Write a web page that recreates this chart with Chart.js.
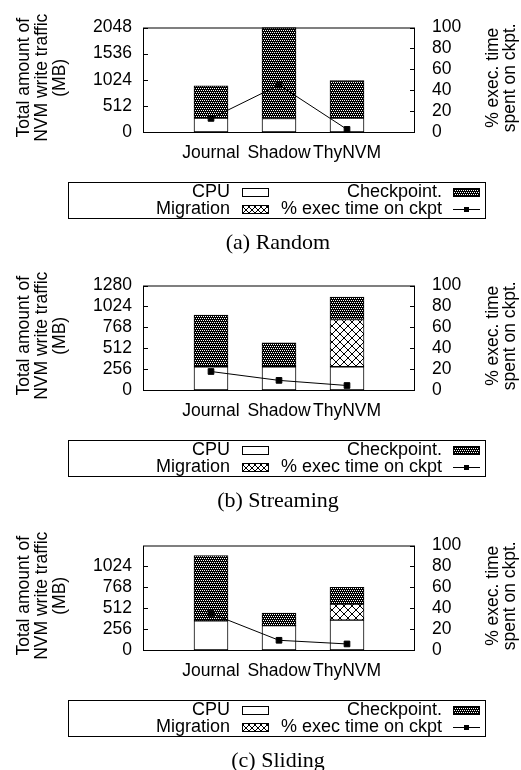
<!DOCTYPE html>
<html>
<head>
<meta charset="utf-8">
<script src="https://cdn.jsdelivr.net/npm/chart.js@4.4.1/dist/chart.umd.min.js"></script>
<style>
  body { margin: 0; background: #fff; }
  .panel { position: absolute; left: 0; width: 521px; height: 259px; }
  .panel canvas { position: absolute; left: 0; top: 0; }
  .caption { position: absolute; left: 0; width: 556px; top: 229px; text-align: center;
    font: 22px "Liberation Serif", "Times New Roman", serif; line-height: 26px; color: #000; }
</style>
</head>
<body>
<div class="panel" style="top:0px"><canvas id="c0" width="521" height="240"></canvas><div class="caption">(a) Random</div></div>
<div class="panel" style="top:258px"><canvas id="c1" width="521" height="240"></canvas><div class="caption">(b) Streaming</div></div>
<div class="panel" style="top:518px"><canvas id="c2" width="521" height="240"></canvas><div class="caption">(c) Sliding</div></div>
<script>
// categories (empty slots at both ends, like the gnuplot x range)
const categories = ["", "Journal", "Shadow", "ThyNVM", ""];

// (a) Random
const randomCpu = [275, 264, 275];
const randomMigration = [0, 0, 0];
const randomCkpt = [628, 1784, 734];
const randomPct = [13, 45, 2.5];
const randomTicks = [0, 512, 1024, 1536, 2048];

// (b) Streaming
const streamingCpu = [285, 285, 285];
const streamingMigration = [0, 0, 578];
const streamingCkpt = [633, 293, 275];
const streamingPct = [17.7, 9.2, 4.3];
const streamingTicks = [0, 256, 512, 768, 1024, 1280];

// (c) Sliding
const slidingCpu = [357, 298, 365];
const slidingMigration = [0, 0, 197];
const slidingCkpt = [800, 153, 205];
const slidingPct = [35, 9.3, 5.8];
const slidingTicks = [0, 256, 512, 768, 1024];

const pctTicks = [0, 20, 40, 60, 80, 100];

const FAMILY = '"Liberation Sans", Arial, Helvetica, sans-serif';
const FONT = "17.5px " + FAMILY;
const LEGEND_FONT = "18px " + FAMILY;
Chart.defaults.font.family = FAMILY;
Chart.defaults.font.size = 17.5;
Chart.defaults.color = "#000";

function makeCheckPattern() {
	const c = document.createElement("canvas");
	c.width = 4; c.height = 4;
	const g = c.getContext("2d");
	g.fillStyle = "#000";
	g.fillRect(0, 0, 4, 4);
	g.fillStyle = "#fff";
	[[0, 0], [2, 0], [1, 2], [3, 2]].forEach(p => g.fillRect(p[0], p[1], 1, 1));
	return g.createPattern(c, "repeat");
}

function makeCrossPattern(size) {
	const c = document.createElement("canvas");
	c.width = size; c.height = size;
	const g = c.getContext("2d");
	g.fillStyle = "#fff";
	g.fillRect(0, 0, size, size);
	g.strokeStyle = "#000";
	g.lineWidth = 1;
	g.beginPath();
	g.moveTo(0, 0); g.lineTo(size, size);
	g.moveTo(0, size); g.lineTo(size, 0);
	g.stroke();
	return g.createPattern(c, "repeat");
}

const checkFill = makeCheckPattern();
const crossFill = makeCrossPattern(8);
const crossFillSmall = makeCrossPattern(6);

// pad values with the empty end slots, 0 means no segment
const pad = arr => [null, ...arr.map(v => (v ? v : null)), null];

function drawLegend(ctx) {
	ctx.save();
	ctx.strokeStyle = "#000";
	ctx.lineWidth = 1;
	ctx.strokeRect(68.5, 182.5, 417, 36);
	ctx.font = LEGEND_FONT;
	ctx.fillStyle = "#000";
	ctx.textAlign = "right";
	ctx.textBaseline = "middle";
	const r1 = 192, r2 = 209;
	ctx.fillText("CPU", 230, r1);
	ctx.fillText("Checkpoint.", 442, r1);
	ctx.fillText("Migration", 230, r2);
	ctx.fillText("% exec time on ckpt", 442, r2);

	function swatch(x, y, fill) {
		ctx.fillStyle = fill;
		ctx.fillRect(x, y - 4, 26, 8);
		ctx.strokeRect(x + 0.5, y - 3.5, 26, 8);
	}
	swatch(242, r1, "#fff");
	swatch(453, r1, checkFill);
	swatch(242, r2, crossFillSmall);

	ctx.beginPath();
	ctx.moveTo(453, r2 + 0.5);
	ctx.lineTo(480, r2 + 0.5);
	ctx.stroke();
	ctx.fillStyle = "#000";
	ctx.fillRect(464, r2 - 2, 5, 5);
	ctx.restore();
}

function drawTitle(ctx, lines, xs, y) {
	ctx.save();
	ctx.font = FONT;
	ctx.fillStyle = "#000";
	ctx.textAlign = "center";
	ctx.textBaseline = "middle";
	lines.forEach((t, i) => {
		ctx.save();
		ctx.translate(xs[i], y);
		ctx.rotate(-Math.PI / 2);
		ctx.fillText(t, 0, 0);
		ctx.restore();
	});
	ctx.restore();
}

const framePlugin = {
	id: "frame",
	afterDatasetsDraw(chart) {
		const { ctx, chartArea: a, scales } = chart;
		ctx.save();
		ctx.strokeStyle = "#000";
		ctx.lineWidth = 1;
		ctx.strokeRect(a.left + 0.5, a.top + 0.5, a.right - a.left - 1, a.bottom - a.top);
		ctx.beginPath();
		scales.y.ticks.forEach(t => {
			const y = Math.round(scales.y.getPixelForValue(t.value)) + 0.5;
			ctx.moveTo(a.left, y);
			ctx.lineTo(a.left + 5, y);
		});
		scales.y2.ticks.forEach(t => {
			const y = Math.round(scales.y2.getPixelForValue(t.value)) + 0.5;
			ctx.moveTo(a.right, y);
			ctx.lineTo(a.right - 5, y);
		});
		ctx.stroke();
		ctx.restore();
	},
	afterDraw(chart) {
		const { ctx, chartArea: a } = chart;
		const mid = (a.top + a.bottom) / 2 - 2;
		drawTitle(ctx, ["Total amount of", "NVM write traffic", "(MB)"], [24, 42, 60], mid);
		drawTitle(ctx, ["% exec. time", "spent on ckpt."], [493, 510], mid);
		drawLegend(ctx);
	},
};

function makeChart(id, cpu, migration, ckpt, pct, yMax, yTicks) {
	const ctx = document.getElementById(id).getContext("2d");
	return new Chart(ctx, {
		type: "bar",
		data: {
			labels: categories,
			datasets: [
				{
					label: "% exec time on ckpt",
					type: "line",
					data: pad(pct),
					yAxisID: "y2",
					borderColor: "#000",
					borderWidth: 1,
					pointStyle: "rect",
					pointRadius: 4,
					pointBackgroundColor: "#000",
					pointBorderColor: "#000",
					order: 0,
					clip: false,
				},
				{
					label: "CPU",
					data: pad(cpu),
					backgroundColor: "#fff",
					order: 1,
				},
				{
					label: "Migration",
					data: pad(migration),
					backgroundColor: crossFill,
					order: 1,
				},
				{
					label: "Checkpoint.",
					data: pad(ckpt),
					backgroundColor: checkFill,
					order: 1,
				},
			],
		},
		options: {
			responsive: false,
			animation: false,
			events: [],
			layout: { padding: { top: 16, bottom: 68, left: 0, right: 0 } },
			datasets: {
				bar: {
					barThickness: 34,
					borderColor: "#000",
					borderWidth: 1,
					borderSkipped: false,
					clip: false,
				},
			},
			plugins: { legend: { display: false }, tooltip: { enabled: false } },
			scales: {
				x: {
					stacked: true,
					offset: false,
					grid: { display: false, drawTicks: false },
					border: { display: false },
					ticks: { autoSkip: false, maxRotation: 0, minRotation: 0, padding: 11 },
					afterFit: s => { s.height = 40; },
				},
				y: {
					stacked: true,
					min: 0,
					max: yMax,
					grid: { display: false, drawTicks: false },
					border: { display: false },
					ticks: { padding: 11, autoSkip: false, callback: v => String(v) },
					afterBuildTicks: s => { s.ticks = yTicks.map(v => ({ value: v })); },
					afterFit: s => { s.width = 143; },
				},
				y2: {
					position: "right",
					stacked: false,
					min: 0,
					max: 100,
					grid: { display: false, drawTicks: false },
					border: { display: false },
					ticks: { padding: 17, autoSkip: false, callback: v => String(v) },
					afterBuildTicks: s => { s.ticks = pctTicks.map(v => ({ value: v })); },
					afterFit: s => { s.width = 106; },
				},
			},
		},
		plugins: [framePlugin],
	});
}

makeChart("c0", randomCpu, randomMigration, randomCkpt, randomPct, 2048, randomTicks);
makeChart("c1", streamingCpu, streamingMigration, streamingCkpt, streamingPct, 1280, streamingTicks);
makeChart("c2", slidingCpu, slidingMigration, slidingCkpt, slidingPct, 1280, slidingTicks);
</script>
</body>
</html>
